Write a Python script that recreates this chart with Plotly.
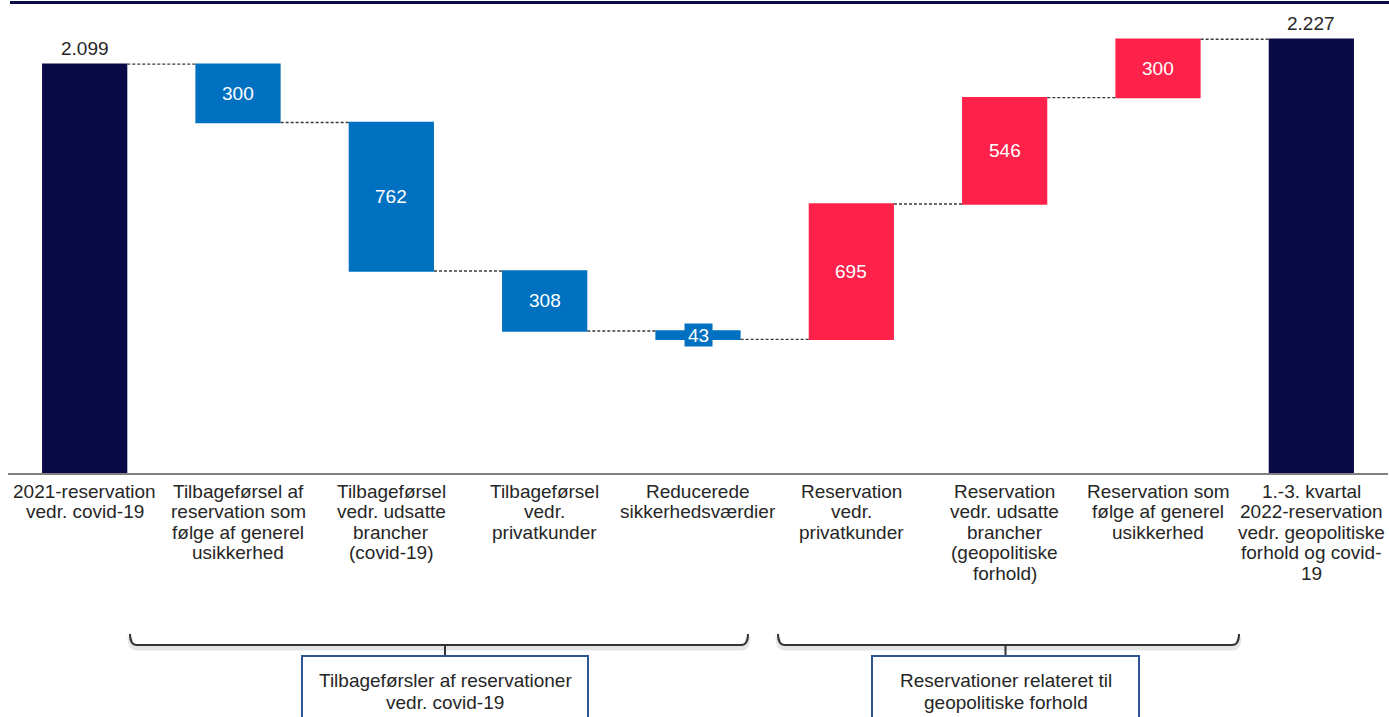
import plotly.graph_objects as go

# Bar categories (one entry per bar) and their wrapped axis labels
categories = [
    "2021-reservation vedr. covid-19",
    "Tilbageførsel af reservation som følge af generel usikkerhed",
    "Tilbageførsel vedr. udsatte brancher (covid-19)",
    "Tilbageførsel vedr. privatkunder",
    "Reducerede sikkerhedsværdier",
    "Reservation vedr. privatkunder",
    "Reservation vedr. udsatte brancher (geopolitiske forhold)",
    "Reservation som følge af generel usikkerhed",
    "1.-3. kvartal 2022-reservation vedr. geopolitiske forhold og covid-19",
]
label_lines = [
    ["2021-reservation", "vedr. covid-19"],
    ["Tilbageførsel af", "reservation som", "følge af generel", "usikkerhed"],
    ["Tilbageførsel", "vedr. udsatte", "brancher", "(covid-19)"],
    ["Tilbageførsel", "vedr.", "privatkunder"],
    ["Reducerede", "sikkerhedsværdier"],
    ["Reservation", "vedr.", "privatkunder"],
    ["Reservation", "vedr. udsatte", "brancher", "(geopolitiske", "forhold)"],
    ["Reservation som", "følge af generel", "usikkerhed"],
    ["1.-3. kvartal", "2022-reservation", "vedr. geopolitiske", "forhold og covid-", "19"],
]

# Changes in the reservation (mio. kr.); the last bar is the running total
values = [2099, -300, -762, -308, -43, 695, 546, 300, 0]
measures = ["absolute", "relative", "relative", "relative", "relative",
            "relative", "relative", "relative", "total"]

# Group captions below the axis
group_titles = [
    ["Tilbageførsler af reservationer", "vedr. covid-19"],
    ["Reservationer relateret til", "geopolitiske forhold"],
]

NAVY = "#0a0a47"
BLUE = "#0070c0"
RED = "#fe224b"
TEXT = "#262626"
FONT = "Liberation Sans, Arial, sans-serif"
FS = 19

W, H = 1389, 717
ML, MR, MT, MB = 8, 1, 20, 244
PW, PH = W - ML - MR, H - MT - MB
Y_MAX = 2325.5


def X(p):
    """pixel x -> paper x"""
    return (p - ML) / PW


def Y(p):
    """pixel y -> paper y"""
    return (H - MB - p) / PH


def fmt(v):
    return f"{abs(v):,}".replace(",", ".")


fig = go.Figure(go.Waterfall(
    x=categories,
    y=values,
    measure=measures,
    totals=dict(marker=dict(color=NAVY, line=dict(width=0))),
    increasing=dict(marker=dict(color=RED, line=dict(width=0))),
    decreasing=dict(marker=dict(color=BLUE, line=dict(width=0))),
    connector=dict(mode="between",
                   line=dict(color="#3a3a3a", width=1.4, dash="3px,2px")),
    hoverinfo="skip",
))

annotations = []

# Value labels computed from the running level
level = 0
for cat, m, v in zip(categories, measures, values):
    if m in ("absolute", "total"):
        if m == "absolute":
            level = v
        annotations.append(dict(x=cat, y=level, xref="x", yref="y", text=fmt(level),
                                showarrow=False, yanchor="bottom", yshift=3,
                                font=dict(family=FONT, size=FS, color=TEXT)))
    else:
        mid = level + v / 2
        level += v
        ann = dict(x=cat, y=mid, xref="x", yref="y", text=fmt(v),
                   showarrow=False, yanchor="middle",
                   font=dict(family=FONT, size=FS, color="white"))
        if abs(v) < 100:
            # thin bar: give the label a backing in the bar colour
            ann.update(bgcolor=BLUE if v < 0 else RED, width=27, height=22, borderpad=0)
        annotations.append(ann)

# Category labels, one annotation per line for tight line spacing
LINE_STEP = 20.6
FIRST_LINE = 491
for cat, lines in zip(categories, label_lines):
    for i, line in enumerate(lines):
        annotations.append(dict(x=cat, y=Y(FIRST_LINE + i * LINE_STEP), xref="x", yref="paper",
                                text=line, showarrow=False, yanchor="middle", xanchor="center",
                                font=dict(family=FONT, size=FS, color=TEXT)))

shapes = []

# Header rule
shapes.append(dict(type="line", xref="paper", yref="paper",
                   x0=X(10), x1=X(W), y0=Y(2.5), y1=Y(2.5),
                   line=dict(color="#0b0b4a", width=3)))

# Braces and caption boxes for the two groups
groups = [
    dict(left=130, right=748, box=(302, 588)),
    dict(left=778, right=1239, box=(872, 1139)),
]
BRACE_Y, HOOK_Y, TICK_Y = 645, 634, 656
for g, title in zip(groups, group_titles):
    l, r = g["left"], g["right"]
    c = (g["box"][0] + g["box"][1]) / 2

    def brace(dy):
        return (f"M {X(l)},{Y(HOOK_Y + dy)} Q {X(l)},{Y(BRACE_Y + dy)} {X(l + 7)},{Y(BRACE_Y + dy)} "
                f"L {X(r - 7)},{Y(BRACE_Y + dy)} Q {X(r)},{Y(BRACE_Y + dy)} {X(r)},{Y(HOOK_Y + dy)}")

    shapes.append(dict(type="path", xref="paper", yref="paper", path=brace(3),
                       line=dict(color="rgba(0,0,0,0.10)", width=5)))
    shapes.append(dict(type="path", xref="paper", yref="paper", path=brace(0),
                       line=dict(color="#333333", width=2)))
    shapes.append(dict(type="line", xref="paper", yref="paper",
                       x0=X(c), x1=X(c), y0=Y(BRACE_Y), y1=Y(TICK_Y),
                       line=dict(color="#333333", width=2)))
    shapes.append(dict(type="rect", xref="paper", yref="paper",
                       x0=X(g["box"][0]), x1=X(g["box"][1]), y0=Y(TICK_Y), y1=Y(H + 20),
                       fillcolor="white", line=dict(color="#2f5597", width=2)))
    for i, line in enumerate(title):
        annotations.append(dict(x=X(c), y=Y(680 + i * 22.5), xref="paper", yref="paper",
                                text=line, showarrow=False, yanchor="middle", xanchor="center",
                                font=dict(family=FONT, size=FS, color=TEXT)))

fig.update_layout(
    width=W, height=H,
    margin=dict(l=ML, r=MR, t=MT, b=MB, pad=0),
    paper_bgcolor="white", plot_bgcolor="white",
    showlegend=False,
    waterfallgap=0.444,
    separators=",.",
    xaxis=dict(showticklabels=False, showgrid=False, zeroline=False, ticks="",
               showline=True, linecolor="#808080", linewidth=2,
               range=[-0.5, 8.5], fixedrange=True),
    yaxis=dict(visible=False, range=[0, Y_MAX], showgrid=False, zeroline=False,
               fixedrange=True),
    shapes=shapes,
    annotations=annotations,
)

fig.write_html("out.html", config=dict(displayModeBar=False))
